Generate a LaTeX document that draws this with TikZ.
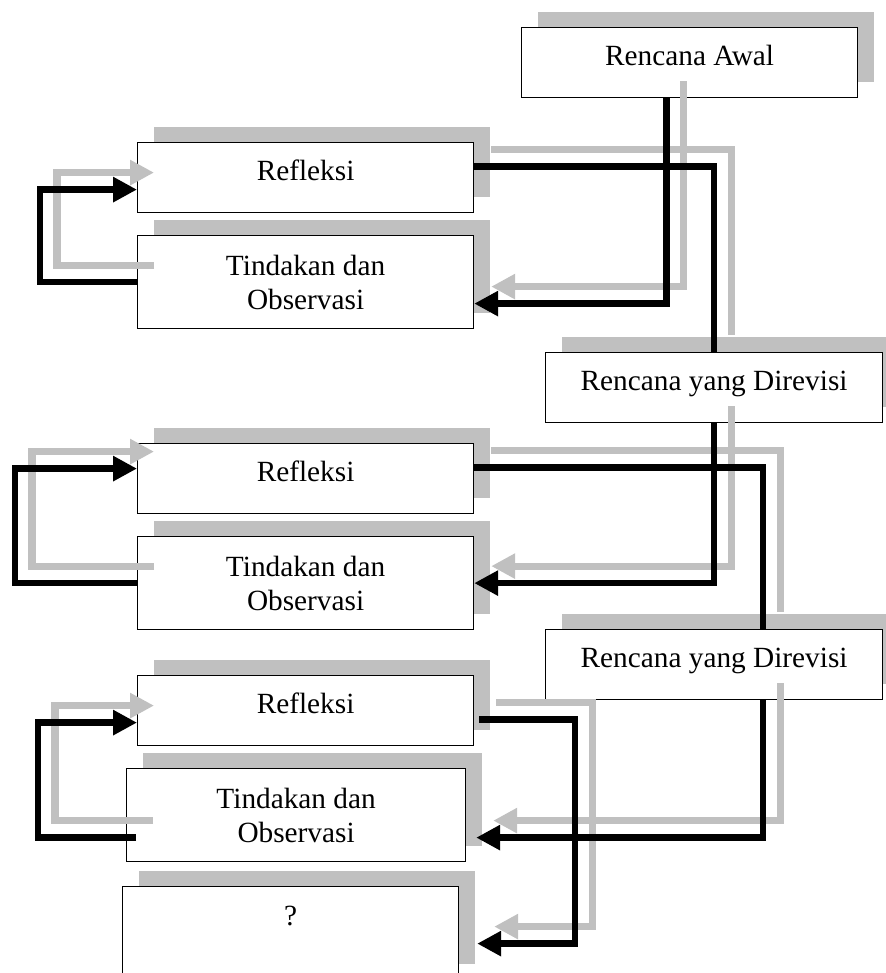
\documentclass[tikz,border=0pt]{standalone}
\usepackage{fontspec}
\setmainfont{Liberation Serif}
\usetikzlibrary{arrows.meta,shadows,calc}
\definecolor{shade}{RGB}{192,192,192}
\begin{document}
\begin{tikzpicture}[x=0.5pt,y=-0.5pt,
  box/.style={draw=black, line width=0.6pt, fill=white, inner xsep=0pt, inner ysep=0pt,
    minimum width=168pt, anchor=north west, font=\fontsize{14.65pt}{17pt}\selectfont,
    general shadow={fill=shade, shadow xshift=8pt, shadow yshift=8pt}},
  onebox/.style={box, text height=19pt, text depth=16pt},
  twobox/.style={box, minimum height=46.5pt, align=center},
  link/.style={line width=3.25pt, line join=miter},
  arrowlink/.style={link, -{Triangle[length=12pt,width=12pt]}},
  ghost/.style={draw=shade, line width=3.6pt, transform canvas={xshift=8.5pt,yshift=8.5pt}}
]
\useasboundingbox (0,0) rectangle (886,973);
\clip (0,0) rectangle (886,973);

% boxes
\node[onebox] (awal) at (521,27) {Rencana Awal};
\node[onebox] (ref1) at (137,142) {Refleksi};
\node[twobox] (tin1) at (137,235) {Tindakan dan\\Observasi};
\node[onebox, minimum width=168.5pt] (rev1) at (545,352) {Rencana yang Direvisi};
\node[onebox] (ref2) at (137,443) {Refleksi};
\node[twobox] (tin2) at (137,536) {Tindakan dan\\Observasi};
\node[onebox, minimum width=168.5pt] (rev2) at (545,629) {Rencana yang Direvisi};
\node[onebox] (ref3) at (137,675) {Refleksi};
\node[twobox, minimum width=169.5pt] (tin3) at (126,768) {Tindakan dan\\Observasi};
\node[box, text height=19.5pt, text depth=27pt] (q) at (122,886) {?};

% grey shadow connectors
\draw[link, ghost] ([yshift=5.5pt]ref1.east) -| (rev1.north);
\draw[arrowlink, ghost] ([xshift=-11.5pt]awal.south) |- ([yshift=-10.75pt]tin1.east);
\draw[arrowlink, ghost] (tin1.west) -- ++(-97,0) |- ([yshift=-6pt]ref1.west);
\draw[arrowlink, ghost] (tin2.west) -- ++(-122,0) |- ([yshift=5pt]ref2.west);
\draw[arrowlink, ghost] (rev1.south) |- (tin2.east);
\draw[link, ghost] ([yshift=5.5pt]ref2.east) -| ([xshift=24.5pt]rev2.north);
\draw[arrowlink, ghost] ([xshift=24.5pt]rev2.south) |- ([shift={(5pt,-11.25pt)}]tin3.east);
\draw[arrowlink, ghost] ([shift={(5pt,-11.25pt)}]tin3.west) -- ++(-98,0) |- ([yshift=-6pt]ref3.west);
\draw[arrowlink, ghost] ([shift={(2.5pt,-4.5pt)}]ref3.east) -- ++(96,0) |- ([shift={(9pt,-5.25pt)}]q.east);

% black connectors
\draw[link] ([yshift=5.5pt]ref1.east) -| (rev1.north);
\draw[arrowlink] ([xshift=-11.5pt]awal.south) |- ([yshift=-10.75pt]tin1.east);
\draw[arrowlink] (tin1.west) -- ++(-97,0) |- ([yshift=-6pt]ref1.west);
\draw[arrowlink] (tin2.west) -- ++(-122,0) |- ([yshift=5pt]ref2.west);
\draw[arrowlink] (rev1.south) |- (tin2.east);
\draw[link] ([yshift=5.5pt]ref2.east) -| ([xshift=24.5pt]rev2.north);
\draw[arrowlink] ([xshift=24.5pt]rev2.south) |- ([shift={(5pt,-11.25pt)}]tin3.east);
\draw[arrowlink] ([shift={(5pt,-11.25pt)}]tin3.west) -- ++(-98,0) |- ([yshift=-6pt]ref3.west);
\draw[arrowlink] ([shift={(2.5pt,-4.5pt)}]ref3.east) -- ++(96,0) |- ([shift={(9pt,-5.25pt)}]q.east);
\end{tikzpicture}
\end{document}
